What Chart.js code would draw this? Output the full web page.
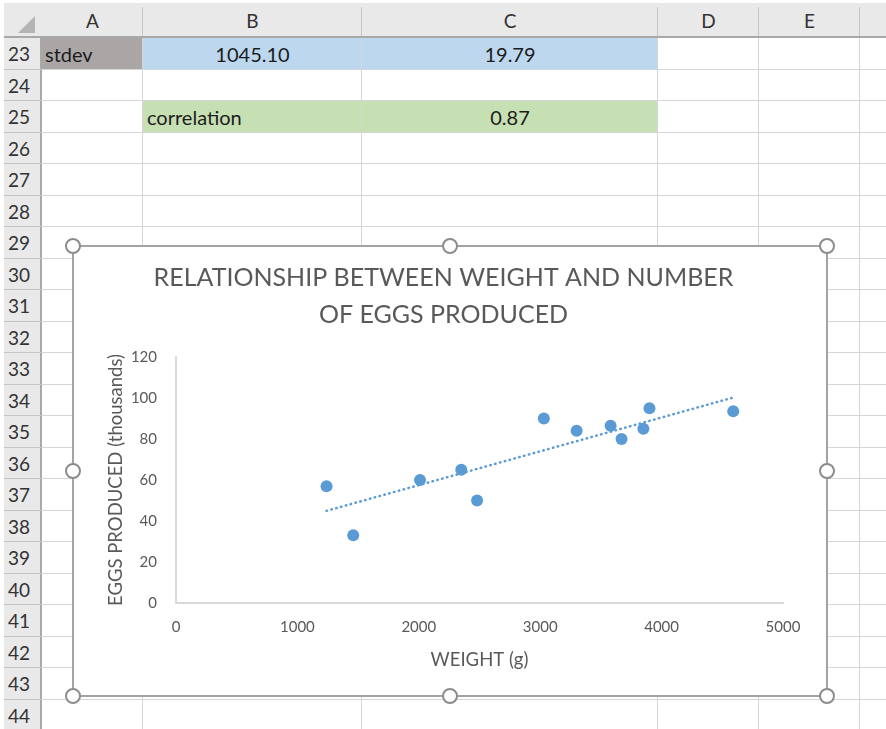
<!DOCTYPE html>
<html>
<head>
<meta charset="utf-8">
<script src="https://cdn.jsdelivr.net/npm/chart.js@4.4.0/dist/chart.umd.min.js"></script>
<style>
  body { margin: 0; width: 886px; height: 729px; overflow: hidden; background: #fff; position: relative; font-family: Lato, "Open Sans", sans-serif; color: #1c1c1c; }
  .abs { position: absolute; box-sizing: border-box; }
  .colhdr { background: #e9e9e9; }
  .rowhdr { background: #e9e9e9; }
  .hline { height: 1px; background: #d6d6d6; }
  .vline { width: 1px; background: #d6d6d6; }
  .cell { display: flex; align-items: center; font-size: 20px; white-space: nowrap; }
  .hdrtext { display: flex; align-items: center; justify-content: center; font-size: 19px; color: #333; }
  #chartBox { left: 72px; top: 245px; width: 756px; height: 452px; border: 2px solid #a3a3a3; background: #fff; }
  #chartBox canvas { position: absolute; left: 0; top: 0; }
  .handle { width: 16px; height: 16px; border-radius: 50%; border: 2px solid #8c8c8c; background: #fff; }
</style>
</head>
<body>
<div id="sheet"></div>
<div id="chartBox" class="abs"><canvas id="eggsChart" width="752" height="448"></canvas></div>
<div id="handles"></div>
<script>
// sample data: hen weight (g) vs eggs produced (thousands)
const weights = [1240, 1460, 2010, 2350, 2480, 3030, 3300, 3580, 3670, 3850, 3900, 4590];
const eggs = [57, 33, 60, 65, 50, 90, 84, 86.5, 80, 85, 95, 93.5];
const xTicks = [0, 1000, 2000, 3000, 4000, 5000];
const yTicks = [0, 20, 40, 60, 80, 100, 120];

// worksheet contents
const colLetters = ['A', 'B', 'C', 'D', 'E'];
const firstRow = 23;
const lastRow = 44;
const stdevRow = ['stdev', '1045.10', '19.79'];
const corrRow = ['correlation', '0.87'];

const colX = [42, 143, 362, 658, 759, 860, 886];
const headTop = 3, headBottom = 38, rowH = 31.5;
const rowTop = r => headBottom + (r - firstRow) * rowH;

const sheet = document.getElementById('sheet');
function box(cls, css, html) {
    const d = document.createElement('div');
    d.className = 'abs ' + cls;
    Object.assign(d.style, css);
    if (html !== undefined) d.innerHTML = html;
    sheet.appendChild(d);
    return d;
}

// filled cells first, grid lines on top
box('', { left: colX[0] + 'px', top: rowTop(23) + 'px', width: (colX[1] - colX[0]) + 'px', height: rowH + 'px', background: '#aaa6a6' });
box('', { left: colX[1] + 'px', top: rowTop(23) + 'px', width: (colX[3] - colX[1]) + 'px', height: rowH + 'px', background: '#bdd7ee' });
box('', { left: colX[1] + 'px', top: rowTop(25) + 'px', width: (colX[3] - colX[1]) + 'px', height: rowH + 'px', background: '#c6e0b4' });

for (let r = firstRow; r <= lastRow + 1; r++) {
    box('hline', { left: colX[0] + 'px', top: (Math.round(rowTop(r)) - 1) + 'px', width: (886 - colX[0]) + 'px' });
}
for (let c = 1; c < colX.length - 1; c++) {
    box('vline', { left: (colX[c] - 1) + 'px', top: headBottom + 'px', height: (729 - headBottom) + 'px' });
}

// headers
box('colhdr', { left: '4px', top: headTop + 'px', width: (886 - 4) + 'px', height: (headBottom - headTop) + 'px', borderBottom: '2px solid #a8a8a8' });
box('rowhdr', { left: '4px', top: headBottom + 'px', width: (colX[0] - 4) + 'px', height: (729 - headBottom) + 'px', borderRight: '2px solid #a8a8a8' });
box('', { left: '18px', top: '16px', width: '17px', height: '17px', background: '#b4b4b4', clipPath: 'polygon(100% 0, 100% 100%, 0 100%)' });
for (let c = 1; c < colX.length - 1; c++) {
    box('', { left: (colX[c] - 1) + 'px', top: (headTop + 4) + 'px', width: '1px', height: (headBottom - headTop - 6) + 'px', background: '#c4c4c4' });
}
colLetters.forEach((l, i) => {
    box('hdrtext', { left: colX[i] + 'px', top: headTop + 'px', width: (colX[i + 1] - colX[i]) + 'px', height: (headBottom - headTop) + 'px' }, l);
});
for (let r = firstRow; r <= lastRow; r++) {
    box('', { left: '4px', top: (Math.round(rowTop(r + 1)) - 1) + 'px', width: (colX[0] - 4) + 'px', height: '1px', background: '#c4c4c4' });
    box('hdrtext', { left: '4px', top: rowTop(r) + 'px', width: (colX[0] - 6) + 'px', height: rowH + 'px', justifyContent: 'flex-start', paddingLeft: '4px' }, r);
}

// cell text
box('cell', { left: (colX[0] + 3) + 'px', top: rowTop(23) + 'px', height: rowH + 'px' }, stdevRow[0]);
box('cell', { left: colX[1] + 'px', top: rowTop(23) + 'px', width: (colX[2] - colX[1]) + 'px', height: rowH + 'px', justifyContent: 'center' }, stdevRow[1]);
box('cell', { left: colX[2] + 'px', top: rowTop(23) + 'px', width: (colX[3] - colX[2]) + 'px', height: rowH + 'px', justifyContent: 'center' }, stdevRow[2]);
box('cell', { left: (colX[1] + 4) + 'px', top: rowTop(25) + 'px', height: rowH + 'px' }, corrRow[0]);
box('cell', { left: colX[2] + 'px', top: rowTop(25) + 'px', width: (colX[3] - colX[2]) + 'px', height: rowH + 'px', justifyContent: 'center' }, corrRow[1]);

// selection handles round the chart object
const hx = [73, 450, 827], hy = [246, 471, 696];
const handles = document.getElementById('handles');
hy.forEach((y, j) => hx.forEach((x, i) => {
    if (i === 1 && j === 1) return;
    const h = document.createElement('div');
    h.className = 'abs handle';
    h.style.left = (x - 8) + 'px';
    h.style.top = (y - 8) + 'px';
    handles.appendChild(h);
}));

// least-squares trendline over the data range
function linearFit(xs, ys) {
    const n = xs.length;
    const mx = xs.reduce((a, b) => a + b, 0) / n;
    const my = ys.reduce((a, b) => a + b, 0) / n;
    let sxy = 0, sxx = 0;
    for (let i = 0; i < n; i++) {
        sxy += (xs[i] - mx) * (ys[i] - my);
        sxx += (xs[i] - mx) * (xs[i] - mx);
    }
    const slope = sxy / sxx;
    return x => my + slope * (x - mx);
}
const fit = linearFit(weights, eggs);
const xMin = Math.min(...weights), xMax = Math.max(...weights);
const trend = [{ x: xMin, y: fit(xMin) }, { x: xMax, y: fit(xMax) }];

const grey = '#595959';
const tickFont = { family: 'Lato', size: 15 };
const axisTitleFont = { family: 'Lato', size: 18.5 };

new Chart(document.getElementById('eggsChart'), {
    type: 'scatter',
    data: {
        datasets: [{
            label: 'Eggs produced',
            data: weights.map((w, i) => ({ x: w, y: eggs[i] })),
            backgroundColor: '#5b9bd5',
            borderColor: '#5b9bd5',
            borderWidth: 0,
            pointRadius: 6,
            pointHoverRadius: 6,
            order: 1
        }, {
            type: 'line',
            label: 'Linear (Eggs produced)',
            data: trend,
            borderColor: '#5b9bd5',
            borderWidth: 2.5,
            borderDash: [0.5, 4.5],
            borderCapStyle: 'round',
            pointRadius: 0,
            fill: false,
            order: 2
        }]
    },
    options: {
        responsive: false,
        animation: false,
        layout: { padding: { left: 30, right: 43, top: 0, bottom: 0 } },
        plugins: {
            legend: { display: false },
            tooltip: { enabled: false },
            title: {
                display: true,
                text: ['RELATIONSHIP BETWEEN WEIGHT AND NUMBER', 'OF EGGS PRODUCED'],
                color: grey,
                font: { family: 'Lato', size: 25, weight: 'normal', lineHeight: '37px' },
                padding: { top: 12.5, bottom: 23.5 }
            }
        },
        scales: {
            x: {
                type: 'linear',
                min: 0,
                max: 5000,
                afterBuildTicks: s => { s.ticks = xTicks.map(v => ({ value: v })); },
                afterFit: s => { s.height = 92; },
                grid: { display: false, drawTicks: false },
                border: { color: '#d9d9d9', width: 2 },
                ticks: { color: grey, font: tickFont, padding: 15, maxRotation: 0, callback: v => String(v) },
                title: { display: true, text: 'WEIGHT (g)', color: grey, font: axisTitleFont, padding: { top: 0, bottom: 24 } }
            },
            y: {
                min: 0,
                max: 120,
                afterBuildTicks: s => { s.ticks = yTicks.map(v => ({ value: v })); },
                afterFit: s => { s.width = 72; },
                grid: { display: false, drawTicks: false },
                border: { color: '#d9d9d9', width: 2 },
                ticks: { color: grey, font: tickFont, padding: 19, callback: v => String(v) },
                title: { display: true, text: 'EGGS PRODUCED (thousands)', color: grey, font: axisTitleFont, padding: { top: 1, bottom: 0 } }
            }
        }
    }
});
</script>
</body>
</html>
